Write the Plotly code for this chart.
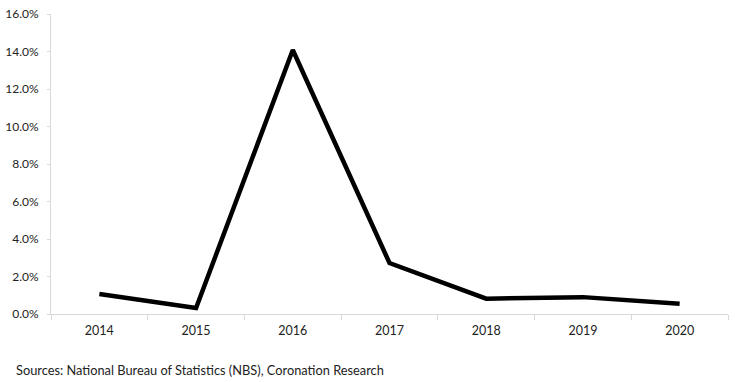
import plotly.graph_objects as go

years = ["2014", "2015", "2016", "2017", "2018", "2019", "2020"]
values = [1.07, 0.32, 14.08, 2.72, 0.82, 0.9, 0.55]
y_ticks = [0, 2, 4, 6, 8, 10, 12, 14, 16]
y_tick_labels = [f"{v:.1f}%" for v in y_ticks]
source_text = "Sources: National Bureau of Statistics (NBS), Coronation Research"

fig = go.Figure(go.Scatter(
    x=years, y=values, mode="lines",
    line=dict(color="#000000", width=4.5),
))

fig.update_layout(
    width=743, height=382,
    margin=dict(l=51, r=15, t=14, b=68),
    paper_bgcolor="white", plot_bgcolor="white",
    font=dict(family="Lato", size=12, color="#222222"),
    showlegend=False,
    xaxis=dict(
        type="category", tickson="boundaries", range=[-0.5, 6.5],
        showline=True, linecolor="#d9d9d9", linewidth=1,
        ticks="outside", ticklen=5, tickcolor="#d9d9d9",
        showgrid=False, zeroline=False, automargin=False,
        ticklabelstandoff=5,
        tickfont=dict(size=12.5),
    ),
    yaxis=dict(
        range=[0, 16], tickvals=y_ticks, ticktext=y_tick_labels,
        showline=True, linecolor="#d9d9d9", linewidth=1,
        ticks="outside", ticklen=3, tickcolor="#d9d9d9",
        showgrid=False, zeroline=False, automargin=False,
        ticklabelstandoff=6,
        tickfont=dict(size=12),
    ),
    annotations=[dict(
        text=source_text, xref="paper", yref="paper",
        x=-37/677, y=-56/300, xanchor="left", yanchor="middle",
        showarrow=False, font=dict(size=12.8, color="#222222"),
    )],
)

fig.write_html("out.html", config={"displayModeBar": False},
               post_script="document.body.style.margin='0';")
